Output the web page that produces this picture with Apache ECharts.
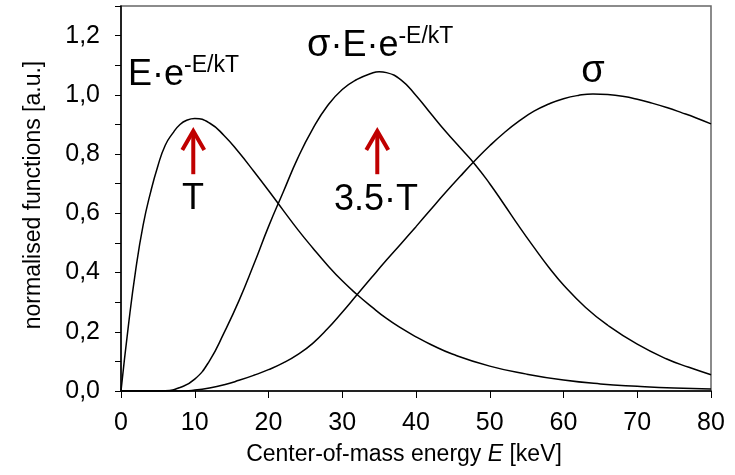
<!DOCTYPE html>
<html>
<head>
<meta charset="utf-8">
<script src="https://cdn.jsdelivr.net/npm/echarts@6/dist/echarts.min.js"></script>
<style>
html,body{margin:0;padding:0;background:#fff;}
#chart{width:735px;height:475px;}
</style>
</head>
<body>
<div id="chart"></div>
<script>
// Energy grid (keV) and normalised curves
const energyMB = [0,1,2,3,4,5,6,7,8,9,10,12,14,16,18,20,22,24,26,28,30,32,34,36,38,40,42,45,50,55,60,65,70,75,80];
const maxwellBoltzmann = [0,0.22,0.41,0.56,0.67,0.76,0.83,0.87,0.90,0.915,0.92,0.905,0.862,0.805,0.742,0.677,0.61,0.544,0.483,0.425,0.372,0.326,0.284,0.245,0.212,0.183,0.157,0.124,0.084,0.057,0.037,0.024,0.016,0.010,0.007];

const energyGamow = [0,2,4,6,8,10,12,14,16,18,20,22,24,26,28,30,32,34,35,36,38,40,42,44,46,48,50,52,54,56,58,60,63,66,70,74,77,80];
const gamowPeak = [0,0,0,0.001,0.012,0.04,0.102,0.198,0.305,0.427,0.555,0.672,0.788,0.885,0.963,1.018,1.052,1.073,1.078,1.075,1.05,0.998,0.937,0.877,0.821,0.765,0.70,0.628,0.555,0.485,0.418,0.358,0.282,0.222,0.158,0.108,0.08,0.055];

const energySigma = [0,4,8,10,12,14,16,18,20,22,24,26,28,30,32,34,36,38,40,42,44,46,48,50,52,54,56,58,60,62,64,66,68,70,72,74,76,78,80];
const crossSection = [0,0,0,0.003,0.01,0.021,0.036,0.053,0.072,0.095,0.124,0.161,0.21,0.266,0.325,0.384,0.442,0.498,0.555,0.613,0.67,0.725,0.778,0.828,0.873,0.912,0.945,0.969,0.987,0.998,1.003,1.001,0.995,0.985,0.972,0.957,0.94,0.922,0.902];

const xTicks = {min:0, max:80, step:10};
const yTicks = {min:0, max:1.3, step:0.1};

// arrows: [energy, tailValue, tipValue]
const arrowEnergy = [9.8, 34.75];
const arrowTail = [0.732, 0.732];
const arrowTip = [0.885, 0.885];

const FONT = "'Liberation Sans', Arial, sans-serif";
const pairs = (xs, ys) => xs.map((x,i)=>[x, ys[i]]);

const chart = echarts.init(document.getElementById('chart'), null, {renderer:'canvas'});
const lineStyle = {color:'#000', width:1.5};
function mkSeries(name, data){
  return {name, type:'line', data, smooth:0.5, showSymbol:false, symbol:'none',
    lineStyle, itemStyle:{color:'#000'}, animation:false, z:3};
}
chart.setOption({
  animation:false,
  backgroundColor:'#fff',
  grid:{left:121, right:24, top:6, bottom:84, show:true, borderColor:'#666', borderWidth:1.5, backgroundColor:'transparent'},
  xAxis:{type:'value', min:xTicks.min, max:xTicks.max, interval:xTicks.step,
    axisLine:{show:true, onZero:false, lineStyle:{color:'#000', width:1.5}},
    axisTick:{show:true, inside:false, length:7, lineStyle:{color:'#000', width:1}},
    axisLabel:{color:'#000', fontFamily:FONT, fontSize:25, margin:20},
    splitLine:{show:false}},
  yAxis:{type:'value', min:yTicks.min, max:yTicks.max, interval:yTicks.step,
    axisLine:{show:true, onZero:false, lineStyle:{color:'#000', width:1.5}},
    axisTick:{show:true, inside:false, length:6, lineStyle:{color:'#000', width:1}},
    axisLabel:{color:'#000', fontFamily:FONT, fontSize:25, margin:21, showMaxLabel:true,
      formatter:(v)=>{const k=Math.round(v*10); return (k%2===0 && k<=12) ? (k/10).toFixed(1).replace('.',',') : '';}},
    splitLine:{show:false}},
  series:[
    mkSeries('E·e^-E/kT', pairs(energyMB, maxwellBoltzmann)),
    mkSeries('σ·E·e^-E/kT', pairs(energyGamow, gamowPeak)),
    mkSeries('σ', pairs(energySigma, crossSection))
  ]
});

const graphics = [];
// axis names
graphics.push({type:'text', x:404, y:455, style:{text:'{n|Center-of-mass energy }{i|E}{n| [keV]}', align:'center', verticalAlign:'middle',
  rich:{n:{fontFamily:FONT, fontSize:23, fill:'#000'}, i:{fontFamily:FONT, fontSize:23, fontStyle:'italic', fill:'#000'}}}});
graphics.push({type:'text', x:34, y:195, rotation:Math.PI/2, style:{text:'normalised functions [a.u.]', align:'center', verticalAlign:'middle', fontFamily:FONT, fontSize:23, fill:'#000'}});
// curve labels
const supRich = {a:{fontFamily:FONT, fontSize:36, fill:'#000', lineHeight:42}, b:{fontFamily:FONT, fontSize:23, fill:'#000', verticalAlign:'top', lineHeight:26}};
graphics.push({type:'text', x:128, y:54, style:{text:'{a|E·e}{b|-E/kT}', rich:supRich}});
graphics.push({type:'text', x:307, y:25, style:{text:'{s|σ}{a|·E·e}{b|-E/kT}', rich:Object.assign({s:{fontFamily:FONT, fontSize:38, fill:'#000', lineHeight:42}}, supRich)}});
graphics.push({type:'text', x:593, y:72, style:{text:'σ', align:'center', verticalAlign:'middle', fontFamily:FONT, fontSize:38, fill:'#000'}});
graphics.push({type:'text', x:193, y:199, style:{text:'T', align:'center', verticalAlign:'middle', fontFamily:FONT, fontSize:36, fill:'#000'}});
graphics.push({type:'text', x:376, y:200, style:{text:'3.5·T', align:'center', verticalAlign:'middle', fontFamily:FONT, fontSize:36, fill:'#000'}});
// arrows
arrowEnergy.forEach((e,i)=>{
  const tail = chart.convertToPixel({gridIndex:0}, [e, arrowTail[i]]);
  const tip = chart.convertToPixel({gridIndex:0}, [e, arrowTip[i]]);
  graphics.push({type:'line', shape:{x1:tail[0], y1:tail[1], x2:tip[0], y2:tip[1]+3}, style:{stroke:'#C00000', lineWidth:4}, z:10});
  graphics.push({type:'polyline', shape:{points:[[tip[0]-11, tip[1]+21],[tip[0], tip[1]+2],[tip[0]+11, tip[1]+21]]}, style:{stroke:'#C00000', lineWidth:4, fill:null, lineJoin:'miter'}, z:10});
});
chart.setOption({graphic:graphics});
</script>
</body>
</html>
